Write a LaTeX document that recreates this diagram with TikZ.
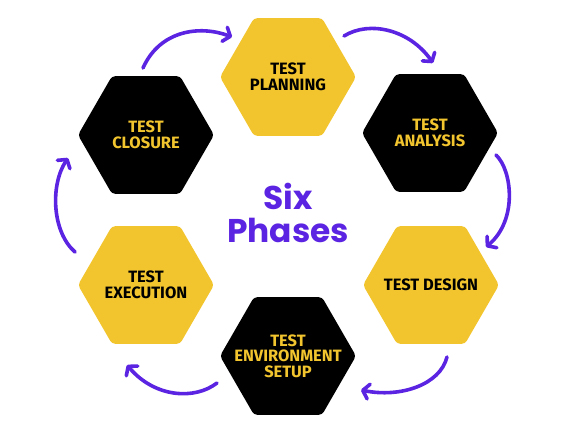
\documentclass[tikz,border=0pt]{standalone}
\usepackage{fontspec}
\usepackage{tikz}
\usetikzlibrary{shapes.geometric,arrows.meta,calc}
\newfontfamily\hexfont{Fira Sans}
\newfontfamily\phasefont{Poppins}
\definecolor{hexyellow}{HTML}{F2C52F}
\definecolor{arrowpurple}{HTML}{5B24E2}

\begin{document}
\begin{tikzpicture}[x=1bp,y=1bp,
    hex/.style={regular polygon,regular polygon sides=6,minimum size=136bp,inner sep=0pt,rounded corners=3.5bp},
    yhex/.style={hex,fill=hexyellow},
    bhex/.style={hex,fill=black},
    ylab/.style={font=\hexfont\bfseries\fontsize{16.5}{15.5}\selectfont,align=center,text=black,inner sep=0pt},
    blab/.style={ylab,text=hexyellow},
    cyc/.style={draw=arrowpurple,line width=3.6bp,line cap=round,
      -{Straight Barb[length=6bp,width=15bp,line cap=round,line join=round]}}]
          \useasboundingbox (0,0) rectangle (577,-433);
          \node [yhex] (plan) at (288,-77) {};
          \node [blab,text=black] (plan-t) at (plan) {TEST\\PLANNING};
          \node [bhex] (ana) at (430,-133) {};
          \node [blab] (ana-t) at (ana) {TEST\\ANALYSIS};
          \node [yhex] (design) at (431,-285) {};
          \node [ylab] (design-t) at (design) {TEST DESIGN};
          \node [bhex] (env) at (288,-356) {};
          \node [blab] (env-t) at (env) {TEST\\ENVIRONMENT\\SETUP};
          \node [yhex] (exec) at (146,-285) {};
          \node [ylab] (exec-t) at (exec) {TEST\\EXECUTION};
          \node [bhex] (close) at (146,-135) {};
          \node [blab] (close-t) at (close) {TEST\\CLOSURE};
          \node [font=\phasefont\bfseries\fontsize{33}{33}\selectfont,text=arrowpurple,align=center,inner sep=0pt] (phases) at (288,-213) {Six\\Phases};
          \draw [cyc] ($(close)+(-3,67)$) .. controls +(17,38) and +(-32,12) .. ($(plan)+(-56,40)$);
          \draw [cyc] ($(plan)+(56,41)$) .. controls +(26,16) and +(-23,33) .. ($(ana)+(3,70)$);
          \draw [cyc] ($(ana)+(66,-22)$) .. controls +(16,-15) and +(32,27) .. ($(design)+(55,38)$);
          \draw [cyc] ($(design)+(16,-72)$) .. controls +(-7,-28) and +(39,-8) .. ($(env)+(73,-34)$);
          \draw [cyc] ($(env)+(-71,-27)$) .. controls +(-22,-17) and +(28,-33) .. ($(exec)+(-19,-80)$);
          \draw [cyc] ($(exec)+(-71,33)$) .. controls +(-23,20) and +(-18,-27) .. ($(close)+(-78,-23)$);
\end{tikzpicture}
\end{document}
